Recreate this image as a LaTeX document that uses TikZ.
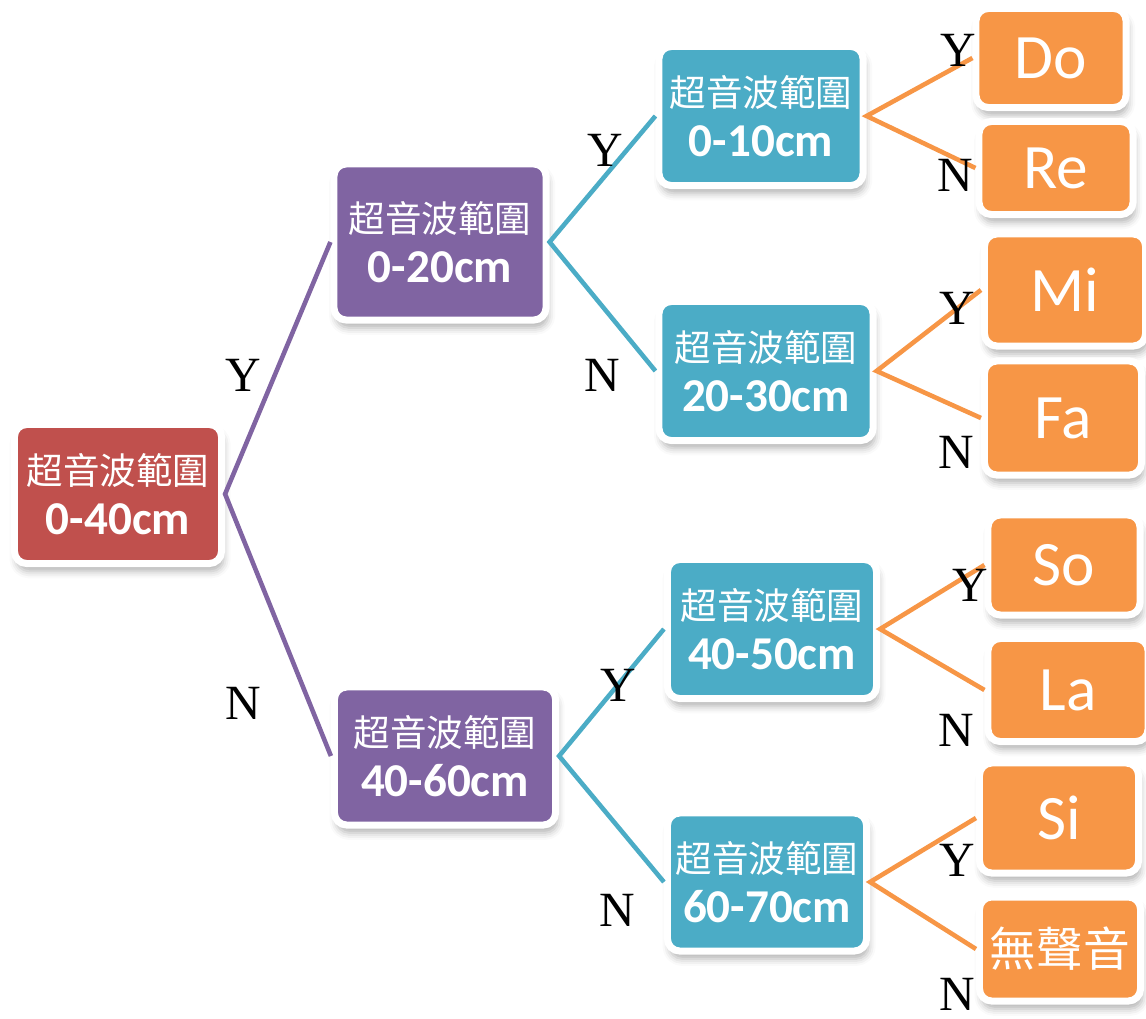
\documentclass[tikz,border=0pt]{standalone}
\usepackage{fontspec}
\setmainfont{Liberation Serif}
\newfontfamily\cjk{Noto Sans CJK TC}
\newfontfamily\calibri{Carlito}
\usetikzlibrary{shadows.blur}

\definecolor{rootred}{HTML}{C0504D}
\definecolor{lvlpurple}{HTML}{8064A2}
\definecolor{lvlteal}{HTML}{4BACC6}
\definecolor{noteorange}{HTML}{F79646}

% range text: title line over the distance
\newcommand{\rangetext}[1]{{\cjk\mdseries\fontsize{10.4}{14.2}\selectfont 超音波範圍}\\{\calibri\bfseries #1}}

\tikzset{
  box/.style={rounded corners=3.5pt, draw=white, line width=2pt, text=white,
    align=center, inner sep=0pt,
    blur shadow={shadow xshift=0.6pt, shadow yshift=-2.2pt, shadow blur radius=2pt, shadow opacity=30}},
  wh/.style 2 args={minimum width=#1, minimum height=#2},
  rangebox/.style={box, font=\calibri\fontsize{13.4}{14.2}\selectfont},
  notebox/.style={box, fill=noteorange, font=\calibri\fontsize{18}{20}\selectfont},
  yn/.style={font=\fontsize{14}{14}\selectfont, inner sep=0pt},
  link/.style={line width=1.3pt},
}

\begin{document}
\begin{tikzpicture}[x=0.01cm, y=-0.01cm]
\useasboundingbox (0,0) rectangle (1146,1018);

%ranges
\node[rangebox, fill=rootred, wh={2.07cm}{1.39cm}] (r040) at (118,494) {\rangetext{0-40cm}};
\node[rangebox, fill=lvlpurple, wh={2.12cm}{1.56cm}] (r020) at (440,242) {\rangetext{0-20cm}};
\node[rangebox, fill=lvlpurple, wh={2.21cm}{1.38cm}] (r4060) at (445,756) {\rangetext{40-60cm}};
\node[rangebox, fill=lvlteal, wh={2.04cm}{1.39cm}] (r010) at (761,116) {\rangetext{0-10cm}};
\node[rangebox, fill=lvlteal, wh={2.14cm}{1.39cm}] (r2030) at (766,371) {\rangetext{20-30cm}};
\node[rangebox, fill=lvlteal, wh={2.09cm}{1.39cm}] (r4050) at (772,629) {\rangetext{40-50cm}};
\node[rangebox, fill=lvlteal, wh={1.99cm}{1.38cm}] (r6070) at (767,882) {\rangetext{60-70cm}};

%notes
\node[notebox, wh={1.50cm}{0.99cm}] (do) at (1051,58) {Do};
\node[notebox, wh={1.54cm}{0.93cm}] (re) at (1056,168) {Re};
\node[notebox, wh={1.61cm}{1.12cm}] (mi) at (1065,290) {Mi};
\node[notebox, wh={1.57cm}{1.14cm}] (fa) at (1063,418) {Fa};
\node[notebox, wh={1.52cm}{1.00cm}] (so) at (1064,565) {So};
\node[notebox, wh={1.60cm}{1.03cm}] (la) at (1068,690) {La};
\node[notebox, wh={1.59cm}{1.10cm}] (si) at (1059,818) {Si};
\node[notebox, wh={1.61cm}{1.04cm}, font=\cjk\fontsize{13.3}{14}\selectfont] (mute) at (1060,949) {無聲音};

%branches
\draw[link, lvlpurple] (r020.west) -- (r040.east) -- (r4060.west);
\draw[link, lvlteal] (r010.west) -- (r020.east) -- (r2030.west);
\draw[link, lvlteal] (r4050.west) -- (r4060.east) -- (r6070.west);
\draw[link, noteorange] (do.west) -- (r010.east) -- (re.west);
\draw[link, noteorange] (mi.west) -- (r2030.east) -- (fa.west);
\draw[link, noteorange] (so.west) -- (r4050.east) -- (la.west);
\draw[link, noteorange] (si.west) -- (r6070.east) -- (mute.west);

%Y/N labels
\node[yn] (y1) at (243,375) {Y};
\node[yn] (n1) at (243,703) {N};
\node[yn] (y2) at (605,150) {Y};
\node[yn] (n2) at (602,375) {N};
\node[yn] (y3) at (618,685) {Y};
\node[yn] (n3) at (617,910) {N};
\node[yn] (y4) at (958,50) {Y};
\node[yn] (n4) at (955,175) {N};
\node[yn] (y5) at (957,308) {Y};
\node[yn] (n5) at (956,452) {N};
\node[yn] (y6) at (970,585) {Y};
\node[yn] (n6) at (956,730) {N};
\node[yn] (y7) at (957,860) {Y};
\node[yn] (n7) at (957,994) {N};
\end{tikzpicture}
\end{document}
